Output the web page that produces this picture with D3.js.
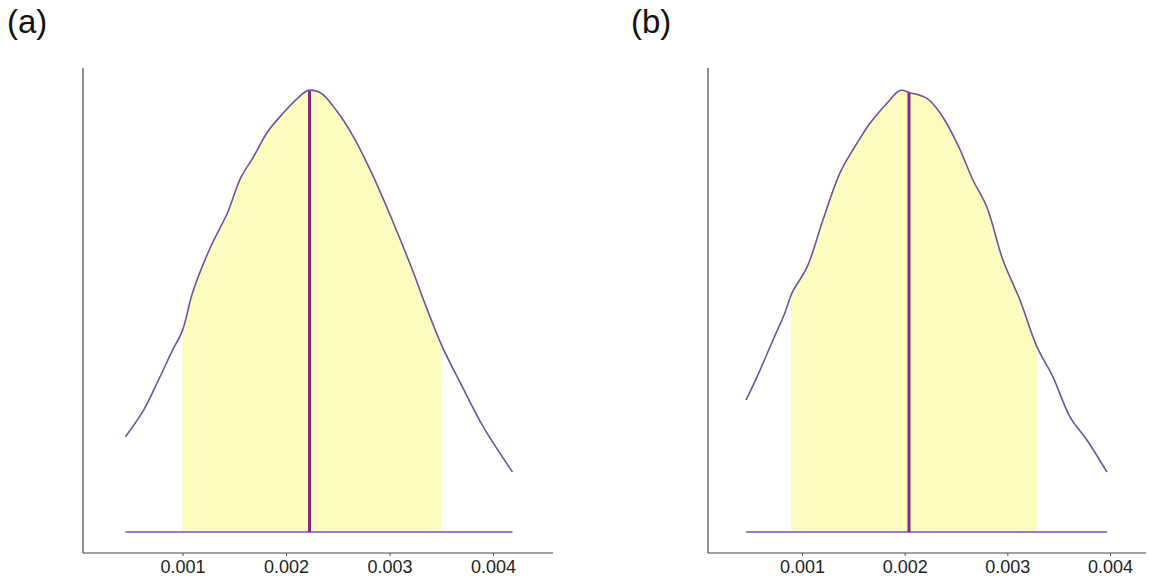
<!DOCTYPE html>
<html>
<head>
<meta charset="utf-8">
<script src="https://cdn.jsdelivr.net/npm/d3@7/dist/d3.min.js"></script>
<style>
  body { margin: 0; background: #fff; }
  svg { display: block; font-family: "Liberation Sans", Arial, sans-serif; }
</style>
</head>
<body>
<svg id="chart" width="1149" height="582"></svg>
<script>
/* posterior density, panel (a) */
const aVals = [0.000449, 0.000623, 0.000768, 0.000903, 0.001, 0.001097, 0.00127, 0.001435, 0.00156, 0.001686,
               0.001821, 0.001976, 0.002111, 0.002217, 0.002333, 0.002498, 0.002652, 0.002845, 0.003039, 0.003232,
               0.003329, 0.003512, 0.003686, 0.003908, 0.004188];
const aDens = [119, 152, 190, 227, 252, 299, 356, 399, 442, 469,
               500, 524, 542, 552, 549, 525, 494, 444, 386, 324,
               290, 231, 186, 131, 75];
const aInterval = [0.001, 0.0035];
const aMedian = 0.002227;

/* posterior density, panel (b) */
const bVals = [0.000455, 0.000562, 0.000718, 0.000834, 0.000903, 0.001049, 0.001204, 0.00137, 0.001536, 0.001662,
               0.001828, 0.001954, 0.002052, 0.002217, 0.002344, 0.00251, 0.002665, 0.002801, 0.002957, 0.003123,
               0.00329, 0.003444, 0.00361, 0.003775, 0.00397];
const bDens = [165, 194, 240, 274, 299, 331, 390, 449, 486, 511,
               536, 552, 549, 542, 524, 486, 440, 406, 340, 290,
               231, 194, 144, 115, 75];
const bInterval = [0.000893, 0.003288];
const bMedian = 0.002042;

const xTicks = [0.001, 0.002, 0.003, 0.004];
const panelLabels = ["(a)", "(b)"];

const svg = d3.select("#chart");

function drawPanel(id, vals, dens, interval, median, layout, label) {
  const x = d3.scaleLinear().domain([0.001, 0.004]).range(layout.tickRange);
  const y = d3.scaleLinear().domain([-26.25, 580]).range([553, 68]);
  const pts = vals.map((v, i) => [v, dens[i]]);

  const g = svg.append("g");

  // panel label
  svg.append("text").attr("x", layout.labelX).attr("y", 33)
    .attr("font-size", 33).attr("fill", "#111").text(label);

  const area = d3.area().x(d => x(d[0])).y0(y(0)).y1(d => y(d[1])).curve(d3.curveCatmullRom);
  const line = d3.line().x(d => x(d[0])).y(d => y(d[1])).curve(d3.curveCatmullRom);

  const defs = svg.append("defs");
  defs.append("clipPath").attr("id", "ci" + id)
    .append("rect")
      .attr("x", x(interval[0])).attr("width", x(interval[1]) - x(interval[0]))
      .attr("y", 0).attr("height", 582);
  defs.append("clipPath").attr("id", "under" + id)
    .append("path").attr("d", area(pts));

  // shaded credible interval
  g.append("path").attr("d", area(pts))
    .attr("fill", "#fdfdbf")
    .attr("clip-path", "url(#ci" + id + ")");

  // baseline
  g.append("line")
    .attr("x1", x(vals[0])).attr("x2", x(vals[vals.length - 1]))
    .attr("y1", y(0)).attr("y2", y(0))
    .attr("stroke", "#9a7cc0").attr("stroke-width", 2);

  // median line, cut at the curve
  g.append("line")
    .attr("x1", x(median)).attr("x2", x(median))
    .attr("y1", y(0)).attr("y2", 60)
    .attr("stroke", "#8a2a7e").attr("stroke-width", 3)
    .attr("clip-path", "url(#under" + id + ")");

  // density curve
  g.append("path").attr("d", line(pts))
    .attr("fill", "none").attr("stroke", "#6f52a3").attr("stroke-width", 1.6);

  // axes
  g.append("line").attr("x1", layout.left).attr("x2", layout.left)
    .attr("y1", 68).attr("y2", 553).attr("stroke", "#444").attr("stroke-width", 1.2);
  g.append("line").attr("x1", layout.left).attr("x2", layout.right)
    .attr("y1", 553).attr("y2", 553).attr("stroke", "#444").attr("stroke-width", 1.2);

  const ax = g.append("g").attr("transform", "translate(0,553)")
    .call(d3.axisBottom(x).tickValues(xTicks).tickSize(3).tickPadding(4)
      .tickFormat(d3.format(".3f")));
  ax.select(".domain").remove();
  ax.selectAll(".tick line").attr("stroke", "#555");
  ax.selectAll("text").attr("font-size", 18).attr("fill", "#222")
    .attr("font-family", "'Liberation Sans', Arial, sans-serif");
}

drawPanel("a", aVals, aDens, aInterval, aMedian,
  { tickRange: [182.5, 493], left: 83, right: 553, labelX: 7 }, panelLabels[0]);
drawPanel("b", bVals, bDens, bInterval, bMedian,
  { tickRange: [802, 1110], left: 708, right: 1146, labelX: 631 }, panelLabels[1]);
</script>
</body>
</html>
